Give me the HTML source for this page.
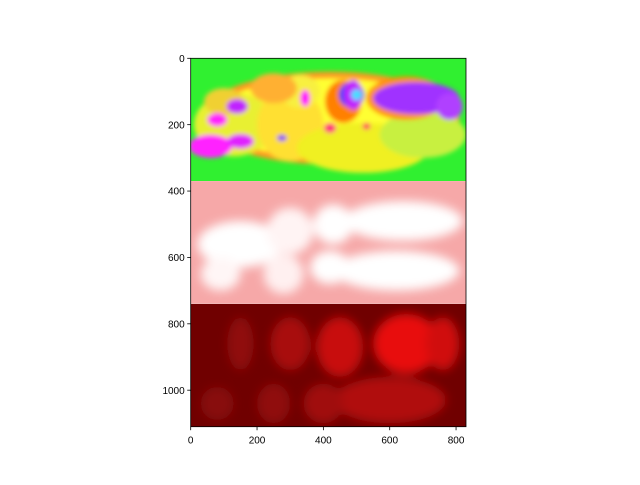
<!DOCTYPE html>
<html><head><meta charset="utf-8"><style>
body{margin:0;background:#fff;}
svg{font-family:"Liberation Sans",sans-serif;}
</style></head><body>
<svg width="640" height="480" xmlns="http://www.w3.org/2000/svg">
<defs>
<filter id="b1" x="-50%" y="-50%" width="200%" height="200%"><feGaussianBlur stdDeviation="2.5"/></filter>
<filter id="b2" x="-50%" y="-50%" width="200%" height="200%"><feGaussianBlur stdDeviation="5"/></filter>
<clipPath id="c1"><rect x="190.7" y="58.3" width="275.3" height="122.7"/></clipPath>
<clipPath id="c2"><rect x="190.7" y="181" width="275.3" height="122.7"/></clipPath>
<clipPath id="c3"><rect x="190.7" y="303.7" width="275.3" height="123"/></clipPath>
</defs>
<g id="img"></g>
<rect x="190.7" y="58.3" width="275.3" height="368.4" fill="none" stroke="#000" stroke-width="0.8"/>
<g id="ticks"></g>
</svg>
<script>
const W=830,H=1110;
const xTicks=[0,200,400,600,800];
const yTicks=[0,200,400,600,800,1000];
// blobs: [x,y,rx,ry,color] in data coords
const panel1=[[420,180,390,140,"#ff9a20"],[420,180,360,120,"#ffff30"],[130,200,120,95,"#e8f030"],[300,200,100,110,"#ffe030"],[520,270,200,75,"#f0f020"],[700,230,130,70,"#c8f040"],[330,100,60,50,"#f8f040"],
[460,130,55,65,"#ff8000"],[650,120,120,65,"#ff9010"],[250,90,70,45,"#ffb030"],[100,130,60,40,"#f0d030"],
[485,110,38,38,"#2040ff"],[490,110,28,45,"#c020ff"],[500,110,16,16,"#40e0ff"],
[680,120,130,48,"#a030ff"],[780,145,40,40,"#b040ff"],
[140,145,32,22,"#c020ff"],[80,185,30,20,"#ff20ff"],[60,265,65,35,"#ff20ff"],[150,250,40,22,"#e020ff"],
[420,210,18,15,"#ff2080"],[530,205,12,10,"#ff2060"],[345,120,15,25,"#ff00ff"],[275,240,15,10,"#8040ff"]];
const panel2=[[150,560,130,70,"#ffffff"],[300,520,70,70,"#fff4f4"],[430,500,60,60,"#ffffff"],[640,490,180,60,"#ffffff"],[620,640,190,60,"#ffffff"],[280,650,60,60,"#fff0f0"],[420,630,60,50,"#ffffff"],[90,650,60,50,"#fff6f6"]];
const panel3=[[450,870,70,90,"#c80808"],[650,860,100,90,"#e80808"],[760,860,50,80,"#d00808"],[300,860,60,80,"#a80808"],[150,860,40,80,"#900808"],
[600,1030,170,70,"#b00808"],[400,1040,60,60,"#a00808"],[250,1040,50,60,"#900808"],[80,1040,50,50,"#880808"]];
const ax=190.7,ay=58.3,pw=275.3,ph=368.4;
const sx=v=>ax+v/W*pw, sy=v=>ay+v/H*ph;
const NS="http://www.w3.org/2000/svg";
function mk(t,a,p){const e=document.createElementNS(NS,t);for(const k in a)e.setAttribute(k,a[k]);p.appendChild(e);return e;}
const img=document.getElementById('img');
const bgs=[[0,370,"#30f030","c1","b1",panel1],[370,740,"#f6a8a8","c2","b2",panel2],[740,1110,"#700000","c3","b2",panel3]];
bgs.forEach((b,i)=>{
 const g=mk('g',{'clip-path':'url(#'+b[3]+')'},img);
 
 
 mk('rect',{x:sx(0),y:sy(b[0]),width:sx(W)-sx(0),height:sy(b[1])-sy(b[0]),fill:b[2]},g);
 const gg=mk('g',{filter:'url(#'+b[4]+')'},g);
 b[5].forEach(d=>{
  const e=mk('ellipse',{cx:sx(d[0]),cy:sy(d[1]),rx:d[2]/W*pw,ry:d[3]/H*ph,fill:d[4]},gg);
  
  
 });
});
const tk=document.getElementById('ticks');
xTicks.forEach(v=>{
 mk('line',{x1:sx(v),x2:sx(v),y1:ay+ph,y2:ay+ph+3.5,stroke:'#000','stroke-width':0.8},tk);
 const t=mk('text',{x:sx(v),y:ay+ph+17,'text-anchor':'middle','font-size':10,fill:'#000'},tk);
 t.textContent=v;
 
 
});
yTicks.forEach(v=>{
 mk('line',{x1:ax,x2:ax-3.5,y1:sy(v),y2:sy(v),stroke:'#000','stroke-width':0.8},tk);
 const t=mk('text',{x:ax-6,y:sy(v)+3.6,'text-anchor':'end','font-size':10,fill:'#000'},tk);
 t.textContent=v;
 
 
});
</script>
</body></html>
